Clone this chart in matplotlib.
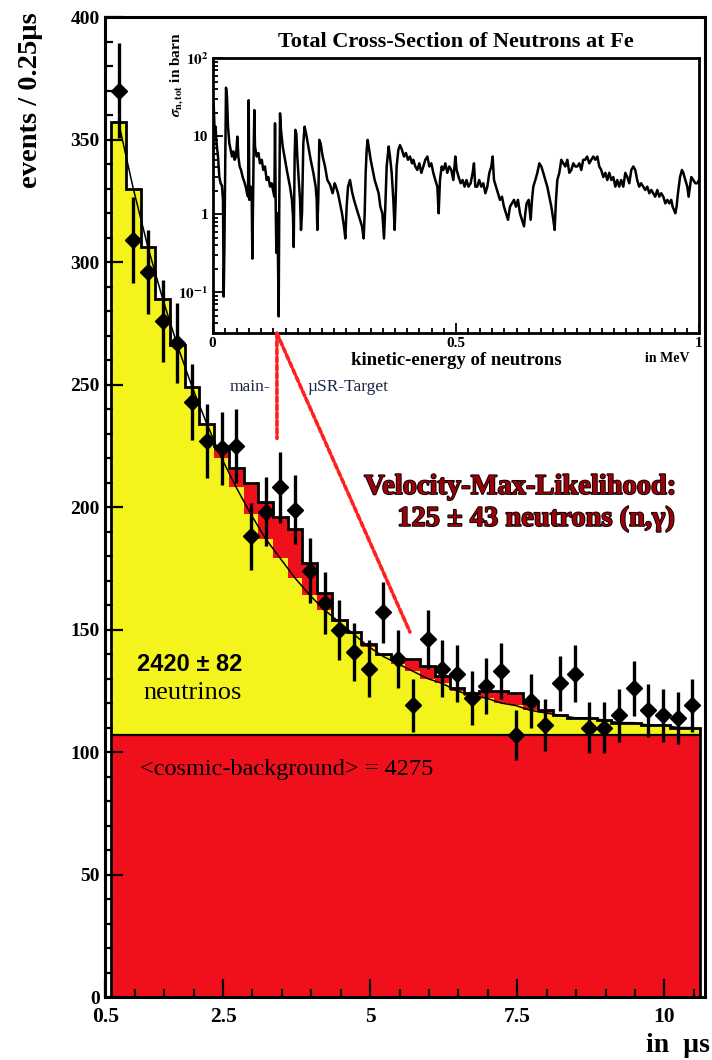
import numpy as np
import matplotlib
matplotlib.use('Agg')
import matplotlib.pyplot as plt
import matplotlib.patheffects as pe
from matplotlib.patches import ConnectionPatch
from matplotlib.ticker import (MultipleLocator, FixedLocator, FixedFormatter,
                               LogLocator, NullFormatter)

plt.rcParams['font.family'] = ['Liberation Serif', 'DejaVu Serif']
plt.rcParams['mathtext.fontset'] = 'stix'
plt.rcParams['font.weight'] = 'bold'

# ---- time spectrum (0.25 us bins from 0.6 to 10.6 us) ----
t_first = 0.6
bin_width = 0.25
counts = [370, 309, 296, 276, 267, 243, 227, 224, 225, 188,
          198, 208, 199, 174, 161, 150, 141, 134, 157, 138,
          119, 146, 134, 132, 122, 127, 133, 107, 121, 111,
          128, 132, 110, 110, 115, 126, 117, 115, 114, 119]
neutrino = [250, 223, 199, 178, 159, 142, 127, 113, 101, 90,
            80, 72, 64, 57, 51, 46, 41, 36, 32, 29,
            26, 23, 21, 18, 16, 15, 13, 12, 10, 9,
            8, 7, 7, 6, 5, 5, 4, 4, 3, 3]
neutron = [0, 0, 0, 0, 0, 0, 0, 5, 8, 13,
           15, 17, 20, 13, 7, 1, 1, 1, 1, 2,
           5, 5, 3, 1, 1, 3, 5, 5, 3, 1,
           0, 0, 0, 0, 0, 0, 0, 0, 0, 0]
background = 107  # mean cosmic background per bin

# ---- total neutron cross-section of Fe ----
energy_mev = [0.000, 0.002, 0.004, 0.006, 0.008, 0.011, 0.0137, 0.0164, 0.0192, 0.0212,
              0.0226, 0.024, 0.0254, 0.0274, 0.0295, 0.0315, 0.0343, 0.037, 0.0398, 0.0425,
              0.0452, 0.048, 0.0507, 0.0528, 0.0555, 0.0583, 0.0617, 0.0651, 0.0679, 0.0706,
              0.0727, 0.074, 0.0754, 0.0781, 0.0802, 0.0816, 0.0829, 0.0843, 0.0857, 0.087,
              0.0905, 0.094, 0.0973, 0.101, 0.104, 0.1076, 0.111, 0.1145, 0.118, 0.1213,
              0.1247, 0.1268, 0.1282, 0.1295, 0.1309, 0.1323, 0.1337, 0.1357, 0.137, 0.1385,
              0.1405, 0.144, 0.1487, 0.1535, 0.159, 0.163, 0.1652, 0.1666, 0.1686, 0.170,
              0.172, 0.174, 0.177, 0.1796, 0.1816, 0.1837, 0.1864, 0.189, 0.192, 0.1967,
              0.2015, 0.207, 0.2118, 0.2139, 0.2152, 0.2173, 0.2193, 0.222, 0.2262, 0.231,
              0.2358, 0.2413, 0.2467, 0.2509, 0.2536, 0.2577, 0.2618, 0.2659, 0.270, 0.2728,
              0.2755, 0.2783, 0.2824, 0.2865, 0.2906, 0.2947, 0.2988, 0.303, 0.307, 0.3105,
              0.3126, 0.3146, 0.3167, 0.3187, 0.3208, 0.3249, 0.329, 0.3331, 0.3372, 0.3413,
              0.3448, 0.3489, 0.3523, 0.355, 0.3578, 0.3619, 0.3646, 0.3681, 0.3715, 0.3742,
              0.3763, 0.3783, 0.3818, 0.3852, 0.3893, 0.3934, 0.3975, 0.4016, 0.4058, 0.4099,
              0.4126, 0.4167, 0.4208, 0.425, 0.4291, 0.4332, 0.4373, 0.4414, 0.4455, 0.4496,
              0.4537, 0.4578, 0.462, 0.4647, 0.4674, 0.4709, 0.4743, 0.4784, 0.4825, 0.4866,
              0.4907, 0.4949, 0.499, 0.5017, 0.5058, 0.510, 0.514, 0.518, 0.522, 0.526,
              0.5305, 0.5346, 0.5373, 0.540, 0.544, 0.548, 0.5524, 0.5565, 0.5607, 0.5648,
              0.5689, 0.573, 0.5757, 0.5785, 0.5826, 0.5867, 0.5908, 0.5949, 0.599, 0.6032,
              0.6073, 0.6114, 0.6155, 0.6196, 0.6237, 0.6278, 0.6319, 0.636, 0.6402, 0.6429,
              0.6456, 0.6498, 0.6539, 0.6566, 0.6593, 0.6635, 0.6676, 0.6717, 0.6758, 0.6799,
              0.684, 0.6881, 0.6923, 0.6964, 0.7005, 0.7032, 0.706, 0.7087, 0.7128, 0.7169,
              0.721, 0.7252, 0.7293, 0.7334, 0.7375, 0.7416, 0.7457, 0.7498, 0.754, 0.758,
              0.762, 0.766, 0.770, 0.7745, 0.7786, 0.7827, 0.7868, 0.791, 0.795, 0.799,
              0.8033, 0.8074, 0.8115, 0.8156, 0.8197, 0.8238, 0.828, 0.832, 0.836, 0.840,
              0.8444, 0.8485, 0.8526, 0.8567, 0.8609, 0.865, 0.869, 0.873, 0.877, 0.881,
              0.8855, 0.8896, 0.8937, 0.8979, 0.902, 0.906, 0.910, 0.9143, 0.9184, 0.9225,
              0.9267, 0.9308, 0.935, 0.939, 0.943, 0.9458, 0.9486, 0.9513, 0.954, 0.9568,
              0.961, 0.965, 0.9678, 0.9719, 0.976, 0.9787, 0.9815, 0.9842, 0.9883, 0.9925,
              0.9966, 1.000]
sigma_barn = [10.9, 26.5, 11.5, 13.3, 8.1, 5.5, 3.0, 2.5, 2.3, 1.5,
              0.088, 0.32, 2.26, 42, 32, 13.3, 8.1, 6.7, 5.5, 6.4,
              5.0, 5.5, 9.9, 5.5, 4.1, 3.7, 3.0, 2.6, 2.26, 1.86,
              1.68, 29, 1.53, 2.26, 1.86, 0.27, 1.25, 6.7, 21.7, 7.4,
              5.5, 6.1, 4.5, 5.0, 3.7, 4.1, 2.75, 3.0, 2.26, 2.5,
              1.95, 1.68, 14.7, 1.53, 0.32, 1.03, 0.57, 0.049, 1.53, 19.7,
              12.1, 7.4, 5.0, 3.4, 2.26, 1.53, 0.93, 0.38, 5.5, 12.1,
              10.9, 5.5, 2.75, 1.53, 0.63, 1.03, 8.1, 13.3, 10.9, 7.4,
              5.0, 3.4, 2.26, 1.53, 0.63, 1.68, 9.0, 8.1, 5.5, 4.1,
              2.75, 2.4, 1.86, 2.5, 2.26, 1.86, 1.38, 1.03, 0.70, 0.49,
              1.25, 2.26, 2.75, 1.95, 1.53, 1.25, 1.03, 0.85, 0.70, 0.49,
              1.03, 3.4, 6.7, 9.0, 7.4, 5.0, 3.7, 2.75, 2.26, 1.86,
              1.25, 1.03, 0.49, 1.25, 4.1, 7.4, 5.5, 3.4, 1.53, 0.63,
              1.53, 4.1, 6.7, 7.7, 6.7, 5.5, 6.1, 5.0, 5.5, 4.5,
              5.0, 4.1, 3.7, 4.5, 3.4, 4.1, 5.0, 5.5, 4.1, 4.5,
              3.4, 2.75, 2.26, 1.03, 2.75, 4.1, 3.7, 4.5, 3.4, 4.1,
              3.7, 2.75, 5.5, 3.7, 3.0, 2.5, 2.75, 2.26, 2.75, 2.26,
              2.5, 3.4, 4.5, 2.26, 2.26, 2.75, 2.26, 2.5, 1.86, 2.26,
              3.4, 4.1, 5.5, 2.75, 2.26, 1.86, 1.53, 1.68, 1.25, 1.03,
              0.85, 1.25, 1.38, 1.53, 1.25, 1.53, 1.03, 0.85, 0.70, 1.03,
              1.38, 1.53, 0.85, 1.53, 2.26, 2.75, 3.4, 4.5, 4.1, 3.4,
              2.75, 2.26, 1.68, 1.25, 0.85, 0.63, 1.53, 2.75, 3.4, 5.0,
              4.5, 4.1, 5.0, 3.4, 3.7, 4.5, 4.1, 4.1, 4.5, 3.7,
              5.0, 5.0, 5.5, 4.5, 5.0, 5.5, 5.0, 5.5, 4.1, 3.7,
              3.0, 3.4, 2.75, 3.4, 2.75, 3.0, 2.26, 2.75, 2.26, 2.75,
              2.26, 3.4, 3.0, 2.5, 3.7, 4.1, 3.7, 2.75, 2.26, 2.5,
              2.26, 2.05, 2.26, 1.86, 2.05, 1.86, 1.68, 2.05, 1.68, 1.86,
              1.68, 1.38, 1.53, 1.38, 1.53, 1.25, 1.14, 1.03, 1.25, 1.86,
              3.0, 3.7, 3.4, 2.75, 2.26, 1.68, 2.26, 3.0, 2.75, 2.5,
              2.5, 2.75]

RED = '#f0101c'
YELLOW = '#f4f41c'
TEXT_RED = '#9c0008'

n_bins = len(counts)
edges = t_first + bin_width * np.arange(n_bins + 1)
centers = 0.5 * (edges[:-1] + edges[1:])
counts = np.array(counts, dtype=float)
bg_top = np.full(n_bins, background, dtype=float)
nu_top = bg_top + np.array(neutrino)
total = nu_top + np.array(neutron)

fig = plt.figure(figsize=(7.12, 10.6), dpi=100)
ax = fig.add_axes([0.1479, 0.0594, 0.8423, 0.9245])

# stacked histogram: cosmic background, neutrinos, neutron capture
ax.stairs(bg_top, edges, baseline=0, fill=True, color=RED, lw=0, zorder=1)
ax.stairs(nu_top, edges, baseline=bg_top, fill=True, color=YELLOW, lw=0, zorder=1)
ax.stairs(total, edges, baseline=nu_top, fill=True, color=RED, lw=0, zorder=1)
ax.stairs(total, edges, baseline=0, color='black', lw=2.0, zorder=2)
ax.stairs(bg_top, edges, baseline=None, color='black', lw=1.6, zorder=2)

# fit curve (background + muon decay)
ax.plot(centers, nu_top, color='black', lw=1.1, zorder=3)

ax.errorbar(centers, counts, yerr=np.sqrt(counts), fmt='D', color='black',
            ms=8.5, elinewidth=2.4, capsize=0, zorder=4)

ax.set_xlim(0.5, 10.69)
ax.set_ylim(0, 400)
ax.xaxis.set_major_locator(FixedLocator([0.5, 2.5, 5, 7.5, 10]))
ax.xaxis.set_major_formatter(FixedFormatter(['0.5', '2.5', '5', '7.5', '10']))
ax.xaxis.set_minor_locator(MultipleLocator(0.5))
ax.yaxis.set_major_locator(MultipleLocator(50))
ax.yaxis.set_minor_locator(MultipleLocator(10))
ax.tick_params(which='both', direction='in', top=False, right=False, width=1.6)
ax.tick_params(which='major', length=13, labelsize=14, pad=4)
ax.tick_params(axis='x', which='major', labelsize=15.5, pad=7)
ax.tick_params(which='minor', length=6)
for s in ax.spines.values():
    s.set_linewidth(2.2)

ax.text(-0.125, 0.915, 'events / 0.25\u00b5s', transform=ax.transAxes,
        rotation=90, ha='center', va='center', fontsize=20.5, fontweight='bold')
fig.text(0.997, 0.014, 'in  \u00b5s', ha='right', va='center',
         fontsize=20, fontweight='bold')

ax.text(1.94, 135.6, '2420 \u00b1 82', ha='center', va='center', fontsize=17,
        fontweight='bold', family=['Liberation Sans', 'DejaVu Sans'], zorder=5)
ax.text(1.98, 124.3, 'neutrinos', ha='center', va='center', fontsize=19,
        fontweight='normal', zorder=5)
ax.text(1.09, 92.7, '<cosmic-background> = 4275', ha='left', va='center',
        fontsize=17.5, fontweight='normal', zorder=5)

outline = [pe.withStroke(linewidth=1.3, foreground='black')]
ax.text(7.55, 208, 'Velocity-Max-Likelihood:', ha='center', va='center',
        fontsize=20.5, fontweight='bold', color=TEXT_RED, path_effects=outline, zorder=5)
ax.text(7.82, 195, '125 \u00b1 43 neutrons (n,\u03b3)', ha='center', va='center',
        fontsize=20.5, fontweight='bold', color=TEXT_RED, path_effects=outline, zorder=5)

ax.text(3.30, 249, 'main-', ha='right', va='center', fontsize=12.5,
        fontweight='normal', color='#1c2448', zorder=5)
ax.text(3.94, 249, '\u00b5SR-Target', ha='left', va='center', fontsize=12.5,
        fontweight='normal', color='#1c2448', zorder=5)

# ---- inset: cross-section ----
axin = fig.add_axes([0.2987, 0.6856, 0.683, 0.2594])
axin.set_facecolor('white')
axin.plot(energy_mev, sigma_barn, color='black', lw=1.8)
axin.set_yscale('log')
axin.set_xlim(0, 1)
axin.set_ylim(0.0298, 100)
axin.yaxis.set_major_locator(FixedLocator([0.1, 1, 10, 100]))
axin.yaxis.set_major_formatter(FixedFormatter(
    [r'$\mathbf{10^{-1}}$', '1', '10', r'$\mathbf{10^{2}}$']))
axin.yaxis.set_minor_locator(LogLocator(base=10, subs=np.arange(2, 10)))
axin.yaxis.set_minor_formatter(NullFormatter())
axin.xaxis.set_major_locator(FixedLocator([0, 0.5, 1]))
axin.xaxis.set_major_formatter(FixedFormatter(['0', '0.5', '1']))
axin.xaxis.set_minor_locator(MultipleLocator(0.025))
axin.tick_params(which='both', direction='in', top=False, right=False, width=1.3)
axin.tick_params(which='major', length=7, labelsize=11, pad=3)
axin.tick_params(which='minor', length=3.5)
for s in axin.spines.values():
    s.set_linewidth(2.0)

axin.set_title('Total Cross-Section of Neutrons at Fe', fontsize=16,
               fontweight='bold', pad=8)
axin.set_xlabel('kinetic-energy of neutrons', fontsize=13.5, fontweight='bold',
                labelpad=1)
axin.text(0.98, -0.09, 'in MeV', transform=axin.transAxes, ha='right',
          va='center', fontsize=10, fontweight='bold')
axin.text(-0.073, 0.94, r'$\sigma_{\mathbf{n,tot}}$ in barn', transform=axin.transAxes,
          rotation=90, ha='center', va='center', fontsize=11, fontweight='bold')

# dashed pointers from the deep resonance dip into the time spectrum
dip_energy = 0.132
for t_end, n_end in [(3.417, 228), (5.676, 149)]:
    con = ConnectionPatch(xyA=(dip_energy, 0.0298), coordsA=axin.transData,
                          xyB=(t_end, n_end), coordsB=ax.transData,
                          arrowstyle='-', color='#ff2020', lw=2.6,
                          linestyle=(0, (1.4, 0.8)), zorder=10)
    fig.add_artist(con)

fig.savefig('out.png', dpi=100)
